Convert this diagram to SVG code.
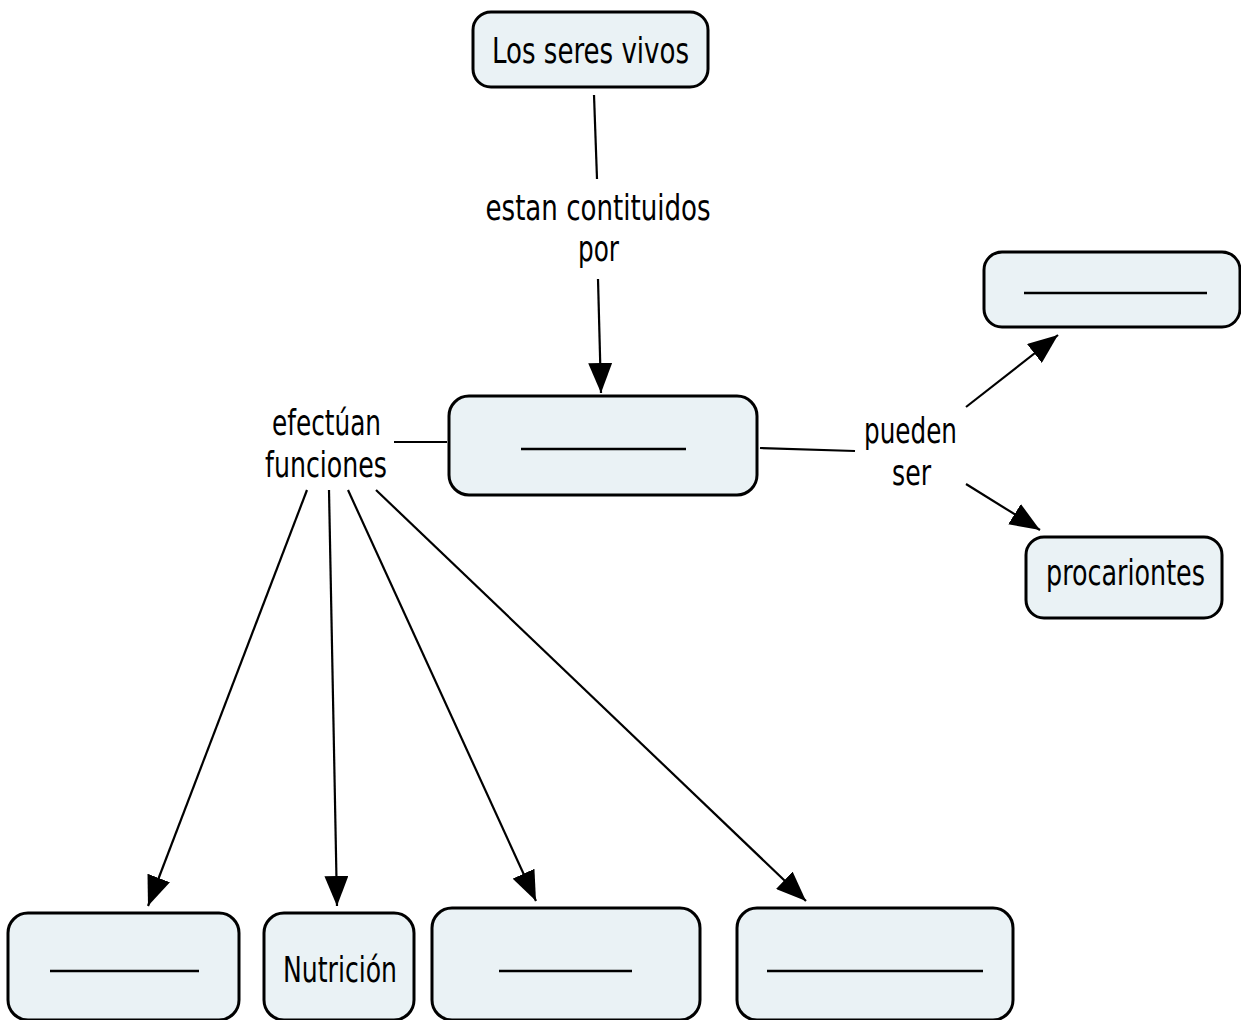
<svg xmlns="http://www.w3.org/2000/svg" width="1241" height="1020" viewBox="0 0 1241 1020">
<style>
.node rect{fill:#EAF2F5;stroke:#000;stroke-width:3}
.blank{stroke:#000;stroke-width:2.5}
text{font-family:"DejaVu Sans Condensed","DejaVu Sans",sans-serif;font-stretch:condensed;font-size:35px;fill:#000;text-anchor:middle}
.conn line{stroke:#000;stroke-width:2.2}
</style>
<defs>
<marker id="arr" viewBox="0 0 30 24" markerWidth="30" markerHeight="24" refX="30" refY="12" orient="auto" markerUnits="userSpaceOnUse">
<path d="M0,0 L30,12 L0,24 z" fill="#000"/>
</marker>
</defs>
<rect width="1241" height="1020" fill="#fff"/>
<g id="connectors" class="conn">
<line x1="594" y1="95" x2="597" y2="179"/>
<line x1="598" y1="279" x2="601" y2="393" marker-end="url(#arr)"/>
<line x1="394" y1="442" x2="447" y2="442"/>
<line x1="760" y1="448" x2="855" y2="451"/>
<line x1="966" y1="407" x2="1058" y2="335" marker-end="url(#arr)"/>
<line x1="966" y1="484" x2="1040" y2="530" marker-end="url(#arr)"/>
<line x1="307" y1="490" x2="148" y2="906" marker-end="url(#arr)"/>
<line x1="329" y1="490" x2="337" y2="906" marker-end="url(#arr)"/>
<line x1="348" y1="490" x2="536" y2="901" marker-end="url(#arr)"/>
<line x1="376" y1="490" x2="806" y2="901" marker-end="url(#arr)"/>
</g>
<g id="lbl-estan">
<text x="598" y="220" textLength="225" lengthAdjust="spacingAndGlyphs">estan contituidos</text>
<text x="598.5" y="261" textLength="41" lengthAdjust="spacingAndGlyphs">por</text>
</g>
<g id="lbl-efectuan">
<text x="326.5" y="435" textLength="109" lengthAdjust="spacingAndGlyphs">efectúan</text>
<text x="326" y="477" textLength="122" lengthAdjust="spacingAndGlyphs">funciones</text>
</g>
<g id="lbl-pueden">
<text x="910.5" y="443" textLength="93" lengthAdjust="spacingAndGlyphs">pueden</text>
<text x="911.5" y="485" textLength="39" lengthAdjust="spacingAndGlyphs">ser</text>
</g>
<g id="n-seres" class="node">
<rect x="473" y="12" width="235" height="75" rx="18"/>
<text x="590.5" y="63" textLength="197" lengthAdjust="spacingAndGlyphs">Los seres vivos</text>
</g>
<g id="n-mid" class="node">
<rect x="449" y="396" width="308" height="99" rx="20"/>
<line class="blank" x1="521" y1="449" x2="686" y2="449"/>
</g>
<g id="n-tr" class="node">
<rect x="984" y="252" width="256" height="75" rx="18"/>
<line class="blank" x1="1024" y1="293" x2="1207" y2="293"/>
</g>
<g id="n-proc" class="node">
<rect x="1026" y="537" width="196" height="81" rx="18"/>
<text x="1125.5" y="585" textLength="159" lengthAdjust="spacingAndGlyphs">procariontes</text>
</g>
<g id="n-b1" class="node">
<rect x="8" y="913" width="231" height="107" rx="20"/>
<line class="blank" x1="50" y1="971" x2="199" y2="971"/>
</g>
<g id="n-nutricion" class="node">
<rect x="264" y="913" width="150" height="107" rx="20"/>
<text x="340" y="982" textLength="114" lengthAdjust="spacingAndGlyphs">Nutrición</text>
</g>
<g id="n-b3" class="node">
<rect x="432" y="908" width="268" height="112" rx="20"/>
<line class="blank" x1="499" y1="971" x2="632" y2="971"/>
</g>
<g id="n-b4" class="node">
<rect x="737" y="908" width="276" height="112" rx="20"/>
<line class="blank" x1="767" y1="971" x2="983" y2="971"/>
</g>
</svg>
